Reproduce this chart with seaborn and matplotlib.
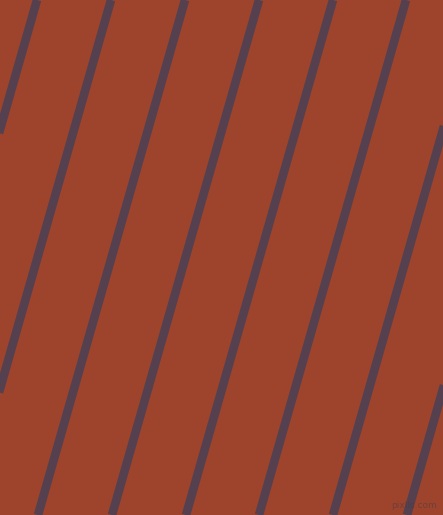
import numpy as np
import pandas as pd
import matplotlib
matplotlib.use("Agg")
import matplotlib.pyplot as plt
import seaborn as sns

# Stripe positions (x at top edge y=0 and at bottom edge y=515)
stripe_ids = [0, 1, 2, 3, 4, 5, 6, 7]
x_top = [37, 111, 185, 259, 333, 406, 480, 554]
x_bottom = [-110, -36, 38, 112, 186, 259, 333, 407]
y_top = 0
y_bottom = 515

rows = []
for sid, xt, xb in zip(stripe_ids, x_top, x_bottom):
    rows.append({"stripe": sid, "x": xt, "y": y_top})
    rows.append({"stripe": sid, "x": xb, "y": y_bottom})
df = pd.DataFrame(rows)

bg = "#9e442c"
stripe_color = "#54404f"

sns.set_theme(style="white")
fig = plt.figure(figsize=(4.43, 5.15), dpi=100)
fig.patch.set_facecolor(bg)
ax = fig.add_axes([0, 0, 1, 1])
ax.set_facecolor(bg)

sns.lineplot(data=df, x="x", y="y", units="stripe", estimator=None,
             color=stripe_color, linewidth=6.2, sort=False, ax=ax,
             solid_capstyle="butt")

ax.set_xlim(0, 443)
ax.set_ylim(515, 0)
ax.set_axis_off()

ax.text(437, 510, "pixlls.com", ha="right", va="bottom", fontsize=6.5,
        color="#4a3a44", alpha=0.55)

fig.savefig("out.png", dpi=100, facecolor=bg)
